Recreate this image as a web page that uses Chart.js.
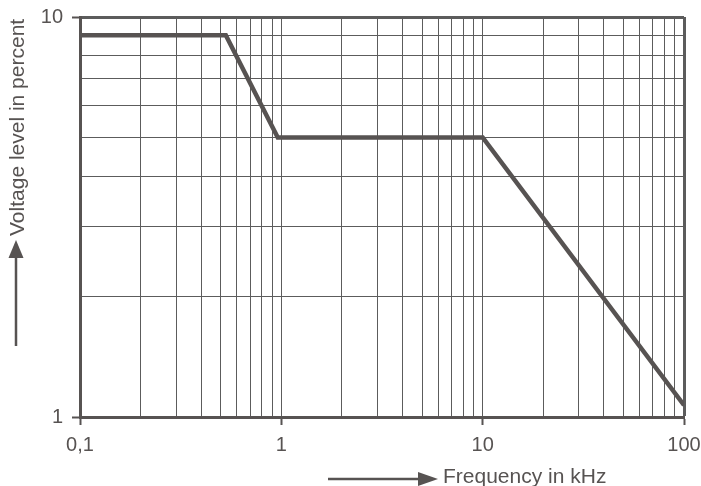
<!DOCTYPE html>
<html>
<head>
<meta charset="utf-8">
<script src="https://cdn.jsdelivr.net/npm/chart.js@4"></script>
<style>
  body { margin: 0; background: #fff; }
  canvas { display: block; }
</style>
</head>
<body>
<canvas id="levelChart" width="701" height="486"></canvas>
<script>
// curve corner points
const freqKHz = [0.1, 0.53, 0.96, 10, 100];
const levelPct = [9, 9, 5, 5, 1.07];

// grid positions (log paper) and the labelled decades
const xGrid = [0.1, 0.2, 0.3, 0.4, 0.5, 0.6, 0.7, 0.8, 0.9,
  1, 2, 3, 4, 5, 6, 7, 8, 9,
  10, 20, 30, 40, 50, 60, 70, 80, 90, 100];
const yGrid = [1, 2, 3, 4, 5, 6, 7, 8, 9, 10];
const xLabelValues = [0.1, 1, 10, 100];
const xLabelTexts = ["0,1", "1", "10", "100"];
const yLabelValues = [1, 10];
const yLabelTexts = ["1", "10"];

const ink = "#575352";
const gridInk = "#5c5c5c";

function labelFor(values, texts, v) {
  const i = values.findIndex((x) => Math.abs(x - v) < 1e-9);
  return i >= 0 ? texts[i] : "";
}

// axis titles with their arrows
const axisTitles = {
  id: "axisTitles",
  afterDraw(chart) {
    const c = chart.ctx;
    c.save();
    c.fillStyle = ink;
    c.strokeStyle = ink;
    c.font = "21px 'Liberation Sans', Arial, sans-serif";

    // y title, rotated
    c.save();
    c.translate(24, 236);
    c.rotate(-Math.PI / 2);
    c.textAlign = "left";
    c.textBaseline = "alphabetic";
    c.fillText("Voltage level in percent", 0, 0);
    c.restore();

    // y arrow
    c.lineWidth = 2.5;
    c.beginPath();
    c.moveTo(16, 346);
    c.lineTo(16, 252);
    c.stroke();
    c.beginPath();
    c.moveTo(16, 240);
    c.lineTo(8.5, 258);
    c.lineTo(23.5, 258);
    c.closePath();
    c.fill();

    // x arrow
    c.beginPath();
    c.moveTo(328, 479);
    c.lineTo(422, 479);
    c.stroke();
    c.beginPath();
    c.moveTo(438, 479);
    c.lineTo(418, 472);
    c.lineTo(418, 486);
    c.closePath();
    c.fill();

    // x title
    c.textAlign = "left";
    c.textBaseline = "alphabetic";
    c.fillText("Frequency in kHz", 443, 483);
    c.restore();
  },
};

new Chart(document.getElementById("levelChart"), {
  type: "line",
  data: {
    datasets: [
      {
        data: freqKHz.map((f, i) => ({ x: f, y: levelPct[i] })),
        borderColor: ink,
        borderWidth: 4.5,
        pointRadius: 0,
        tension: 0,
        fill: false,
      },
    ],
  },
  options: {
    responsive: false,
    animation: false,
    layout: { padding: { top: 17, right: 17, left: 0, bottom: 0 } },
    plugins: {
      legend: { display: false },
      tooltip: { enabled: false },
    },
    scales: {
      x: {
        type: "logarithmic",
        min: 0.1,
        max: 100,
        afterBuildTicks: (axis) => {
          axis.ticks = xGrid.map((v) => ({ value: v }));
        },
        afterFit: (axis) => {
          axis.height = 69;
          axis.paddingLeft = 0;
          axis.paddingRight = 0;
        },
        border: { display: true, color: ink, width: 3 },
        grid: {
          color: gridInk,
          lineWidth: (ctx) => (ctx.tick && ctx.tick.value === 100 ? 3 : 1),
          drawTicks: true,
          tickLength: 8,
          tickWidth: 2,
          tickColor: (ctx) =>
            ctx.tick && xLabelValues.includes(ctx.tick.value) ? ink : "rgba(0,0,0,0)",
        },
        ticks: {
          autoSkip: false,
          maxRotation: 0,
          minRotation: 0,
          padding: 8,
          color: ink,
          font: { family: "'Liberation Sans', Arial, sans-serif", size: 20 },
          callback: (v) => labelFor(xLabelValues, xLabelTexts, v),
        },
      },
      y: {
        type: "logarithmic",
        min: 1,
        max: 10,
        afterBuildTicks: (axis) => {
          axis.ticks = yGrid.map((v) => ({ value: v }));
        },
        afterFit: (axis) => {
          axis.width = 80;
          axis.paddingTop = 0;
          axis.paddingBottom = 0;
        },
        border: { display: true, color: ink, width: 3 },
        grid: {
          color: gridInk,
          lineWidth: (ctx) => (ctx.tick && ctx.tick.value === 10 ? 3 : 1),
          drawTicks: true,
          tickLength: 8,
          tickWidth: 2,
          tickColor: (ctx) =>
            ctx.tick && yLabelValues.includes(ctx.tick.value) ? ink : "rgba(0,0,0,0)",
        },
        ticks: {
          autoSkip: false,
          padding: 9,
          color: ink,
          font: { family: "'Liberation Sans', Arial, sans-serif", size: 20 },
          callback: (v) => labelFor(yLabelValues, yLabelTexts, v),
        },
      },
    },
  },
  plugins: [axisTitles],
});
</script>
</body>
</html>
